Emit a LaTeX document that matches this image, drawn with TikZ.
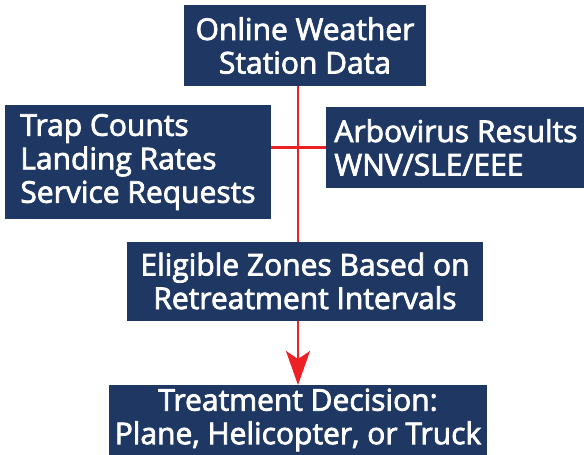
\documentclass[tikz,border=0pt]{standalone}
\usepackage{fontspec}
\setmainfont{Open Sans}
\newfontfamily\labelfont{Open Sans}[FakeBold=2.5]
\usetikzlibrary{arrows.meta}
\definecolor{navy}{RGB}{30,56,99}
\definecolor{linkred}{RGB}{237,32,36}
\tikzset{
  box/.style={fill=navy, text=white, inner sep=0pt, outer sep=0pt,
    font=\labelfont\fontsize{30}{33.5}\selectfont},
  link/.style={draw=linkred, line width=2.5pt},
}
\begin{document}
\begin{tikzpicture}[x=1pt, y=-1pt]
\useasboundingbox (0,0) rectangle (584,455);
% boxes
\node[box, minimum width=242pt, minimum height=81pt, align=center] (top) at (305,45.5)
  {Online Weather\\Station Data};
\node[box, minimum width=266pt, minimum height=114pt, align=left] (left) at (138,162)
  {Trap Counts\\Landing Rates\\Service Requests};
\node[box, minimum width=261pt, minimum height=81pt, align=left] (right) at (456,147.5)
  {Arbovirus Results\\WNV/SLE/EEE};
\node[box, minimum width=356pt, minimum height=79pt, align=center] (mid) at (305,281)
  {Eligible Zones Based on\\Retreatment Intervals};
\node[box, minimum width=378pt, minimum height=70pt, align=center] (bot) at (298,420)
  {Treatment Decision:\\Plane, Helicopter, or Truck};
% connectors
\draw[link] (top.south -| bot.north) -- (mid.north -| bot.north);
\draw[link] (right.west) -- (right.west -| left.east);
\draw[link, -{Stealth[length=34pt, width=24pt, inset=8pt]}] (mid.south -| bot.north) -- (bot.north);
\end{tikzpicture}
\end{document}
